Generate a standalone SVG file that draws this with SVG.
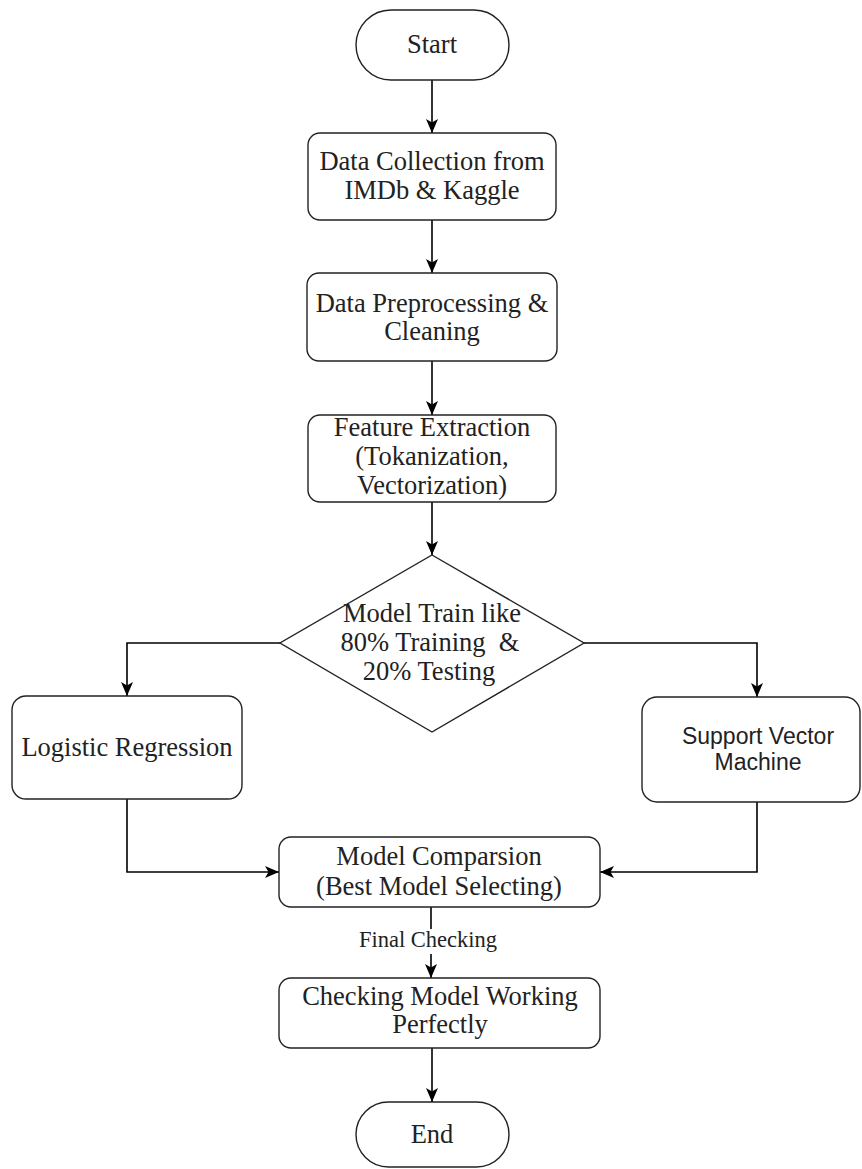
<svg xmlns="http://www.w3.org/2000/svg" width="862" height="1169" viewBox="0 0 862 1169">
<style>
.n{fill:#fff;stroke:#222;stroke-width:1.4}
.e{fill:none;stroke:#000;stroke-width:1.6}
.t{font-family:"Liberation Serif","Times New Roman",serif;font-size:26.5px;fill:#222;text-anchor:middle}
.s{font-family:"Liberation Sans",Arial,sans-serif;font-size:23px;fill:#222;text-anchor:middle}
.l{font-family:"Liberation Serif","Times New Roman",serif;font-size:22.5px;fill:#222;text-anchor:middle}
</style>
<defs>
<marker id="a" markerUnits="userSpaceOnUse" markerWidth="16" markerHeight="16" viewBox="0 0 16 16" refX="15" refY="8" orient="auto">
<path d="M1,2 L15,8 L1,14 L4.5,8 z" fill="#000"/>
</marker>
</defs>
<rect width="862" height="1169" fill="#fff"/>
<g id="connectors">
<line class="e" x1="432" y1="80" x2="432" y2="133" marker-end="url(#a)"/>
<line class="e" x1="432" y1="220" x2="432" y2="273" marker-end="url(#a)"/>
<line class="e" x1="432" y1="361" x2="432" y2="415" marker-end="url(#a)"/>
<line class="e" x1="432" y1="502" x2="432" y2="555" marker-end="url(#a)"/>
<polyline class="e" points="280,643 127,643 127,696" marker-end="url(#a)"/>
<polyline class="e" points="584,643 757,643 757,697" marker-end="url(#a)"/>
<polyline class="e" points="127,799 127,872 279,872" marker-end="url(#a)"/>
<polyline class="e" points="757,802 757,872 600,872" marker-end="url(#a)"/>
<line class="e" x1="431" y1="907" x2="431" y2="978" marker-end="url(#a)"/>
<rect x="374" y="929" width="112" height="25" fill="#fff"/>
<text class="l" x="428" y="947">Final Checking</text>
<line class="e" x1="432" y1="1048" x2="432" y2="1102" marker-end="url(#a)"/>
</g>
<g id="start">
<rect class="n" x="356" y="10" width="153" height="70" rx="35" ry="35"/>
<text class="t" x="432" y="53">Start</text>
</g>
<g id="collection">
<rect class="n" x="308" y="133" width="248" height="87" rx="12"/>
<text class="t" x="432" y="170">Data Collection from</text>
<text class="t" x="432" y="199">IMDb &amp; Kaggle</text>
</g>
<g id="preprocessing">
<rect class="n" x="307" y="273" width="250" height="88" rx="12"/>
<text class="t" x="432" y="312">Data Preprocessing &amp;</text>
<text class="t" x="432" y="340">Cleaning</text>
</g>
<g id="features">
<rect class="n" x="308" y="415" width="248" height="87" rx="12"/>
<text class="t" x="432" y="436">Feature Extraction</text>
<text class="t" x="432" y="465">(Tokanization,</text>
<text class="t" x="432" y="494">Vectorization)</text>
</g>
<g id="decision">
<polygon class="n" points="432,555 584,643 432,732 280,643"/>
<text class="t" x="432" y="622">Model Train like</text>
<text class="t" x="430" y="651" xml:space="preserve">80% Training  &amp;</text>
<text class="t" x="429" y="680">20% Testing</text>
</g>
<g id="logistic">
<rect class="n" x="12" y="696" width="230" height="103" rx="14"/>
<text class="t" x="127" y="756">Logistic Regression</text>
</g>
<g id="svm">
<rect class="n" x="642" y="697" width="218" height="105" rx="15"/>
<text class="s" x="758" y="744">Support Vector</text>
<text class="s" x="758" y="770">Machine</text>
</g>
<g id="comparison">
<rect class="n" x="279" y="837" width="321" height="70" rx="12"/>
<text class="t" x="439" y="865">Model Comparsion</text>
<text class="t" x="439" y="895">(Best Model Selecting)</text>
</g>
<g id="checking">
<rect class="n" x="279" y="978" width="321" height="70" rx="12"/>
<text class="t" x="440" y="1005">Checking Model Working</text>
<text class="t" x="440" y="1033">Perfectly</text>
</g>
<g id="end">
<rect class="n" x="356" y="1102" width="153" height="65" rx="32.5" ry="32.5"/>
<text class="t" x="432" y="1143">End</text>
</g>
</svg>
